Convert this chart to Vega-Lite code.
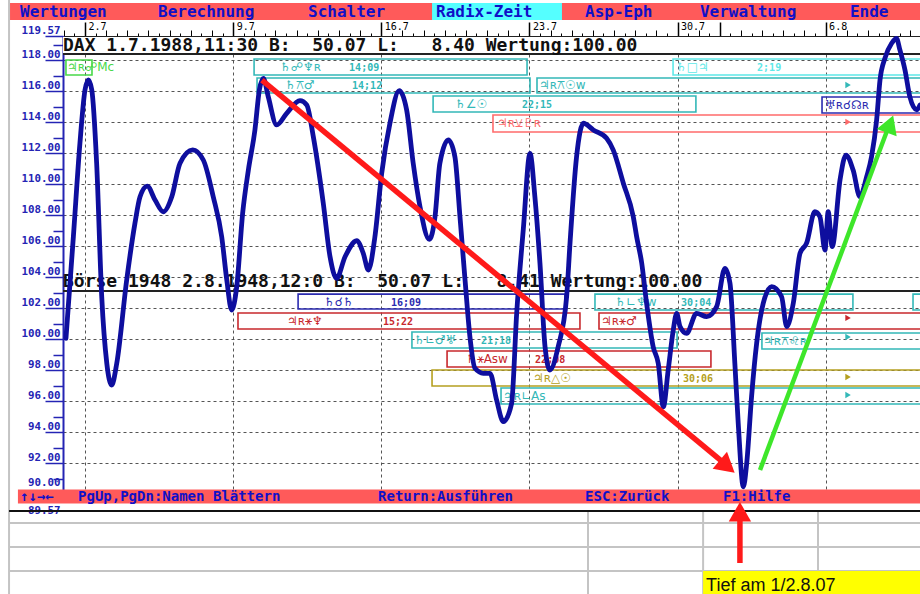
{
  "$schema": "https://vega.github.io/schema/vega-lite/v6.json",
  "width": 857,
  "height": 465,
  "autosize": {"type": "none"},
  "padding": {"left": 63, "top": 36, "right": 0, "bottom": 93},
  "background": "white",
  "config": {"view": {"stroke": null}},
  "resolve": {"axis": {"x": "independent", "y": "independent"}},
  "datasets": {
    "kurs": [
      {"d":1.10,"v":100.07},{"d":1.45,"v":106.62},{"d":1.76,"v":112.65},{"d":2.00,"v":116.09},{"d":2.16,"v":116.73},
      {"d":2.32,"v":116.09},{"d":2.55,"v":111.36},{"d":2.79,"v":102.75},{"d":3.03,"v":98.45},{"d":3.26,"v":97.05},
      {"d":3.50,"v":98.45},{"d":3.97,"v":103.83},{"d":4.36,"v":107.49},{"d":4.60,"v":109.20},{"d":4.94,"v":109.89},
      {"d":5.31,"v":108.99},{"d":5.70,"v":108.23},{"d":6.10,"v":109.20},{"d":6.49,"v":111.36},{"d":7.09,"v":112.22},
      {"d":7.59,"v":111.57},{"d":8.06,"v":109.20},{"d":8.46,"v":106.62},{"d":8.70,"v":103.83},{"d":8.93,"v":101.89},
      {"d":9.17,"v":103.40},{"d":9.45,"v":108.13},{"d":9.72,"v":110.92},{"d":10.03,"v":113.51},{"d":10.24,"v":116.09},
      {"d":10.43,"v":116.84},{"d":10.66,"v":115.65},{"d":11.06,"v":113.83},{"d":11.53,"v":114.58},{"d":12.16,"v":115.40},
      {"d":12.48,"v":115.12},{"d":12.79,"v":113.07},{"d":13.26,"v":108.78},{"d":13.58,"v":105.33},{"d":13.89,"v":103.94},
      {"d":14.29,"v":105.33},{"d":14.84,"v":106.36},{"d":15.15,"v":105.55},{"d":15.39,"v":104.47},{"d":15.70,"v":106.62},
      {"d":16.02,"v":110.71},{"d":16.41,"v":113.94},{"d":16.85,"v":116.04},{"d":17.20,"v":114.80},{"d":17.51,"v":111.36},
      {"d":17.83,"v":108.56},{"d":18.27,"v":106.45},{"d":18.54,"v":107.91},{"d":18.77,"v":111.36},{"d":19.17,"v":112.86},
      {"d":19.48,"v":111.78},{"d":19.72,"v":107.91},{"d":19.96,"v":103.83},{"d":20.19,"v":100.17},{"d":20.43,"v":98.13},
      {"d":20.82,"v":97.81},{"d":21.14,"v":97.81},{"d":21.45,"v":96.09},{"d":21.77,"v":94.69},{"d":22.16,"v":95.87},
      {"d":22.40,"v":101.68},{"d":22.71,"v":107.05},{"d":23.03,"v":112.00},{"d":23.26,"v":109.20},{"d":23.50,"v":104.91},
      {"d":23.74,"v":99.52},{"d":23.97,"v":98.02},{"d":24.36,"v":99.52},{"d":24.76,"v":102.75},{"d":24.92,"v":106.20},
      {"d":25.23,"v":111.78},{"d":25.55,"v":113.94},{"d":26.02,"v":113.51},{"d":26.65,"v":112.97},{"d":26.96,"v":112.22},
      {"d":27.44,"v":110.07},{"d":27.91,"v":107.91},{"d":28.07,"v":106.62},{"d":28.31,"v":104.91},{"d":28.54,"v":102.32},
      {"d":28.85,"v":99.52},{"d":29.09,"v":98.45},{"d":29.33,"v":95.65},{"d":29.56,"v":98.02},{"d":29.80,"v":100.60},
      {"d":29.96,"v":101.68},{"d":30.12,"v":100.82},{"d":30.43,"v":100.39},{"d":30.90,"v":101.68},{"d":31.38,"v":101.46},
      {"d":31.85,"v":102.11},{"d":32.24,"v":104.58},{"d":32.48,"v":103.62},{"d":32.71,"v":98.45},{"d":32.87,"v":94.58},
      {"d":33.11,"v":90.49},{"d":33.27,"v":92.00},{"d":33.50,"v":96.30},{"d":33.74,"v":99.74},{"d":34.05,"v":102.32},
      {"d":34.45,"v":103.40},{"d":34.92,"v":102.75},{"d":35.16,"v":100.82},{"d":35.47,"v":102.32},{"d":35.79,"v":105.55},
      {"d":36.10,"v":106.20},{"d":36.49,"v":108.23},{"d":36.73,"v":107.91},{"d":36.97,"v":105.76},{"d":37.12,"v":108.23},
      {"d":37.31,"v":105.98},{"d":37.68,"v":110.28},{"d":37.96,"v":111.89},{"d":38.30,"v":110.92},{"d":38.62,"v":109.20},
      {"d":38.94,"v":110.49},{"d":39.17,"v":111.78},{"d":39.41,"v":114.15},{"d":39.57,"v":116.73},{"d":39.80,"v":118.13},
      {"d":40.12,"v":119.10},{"d":40.35,"v":119.42},{"d":40.51,"v":118.67},{"d":40.75,"v":117.38},{"d":40.98,"v":115.65},
      {"d":41.30,"v":114.80},{"d":41.46,"v":115.12}
    ],
    "band": [{"d":0.96,"d2":41.7,"v":119.5,"v2":118.47}],
    "rotbalken": [
      {"d":-1.545,"d2":41.7,"v":121.70,"v2":120.60},
      {"d":-1.17,"d2":41.7,"v":90.31,"v2":89.41}
    ],
    "auswahl": [{"d":18.40,"d2":24.54,"v":121.70,"v2":120.60}],
    "menue": [
      {"d":-1.07,"v":120.82,"t":"Wertungen"},
      {"d":5.45,"v":120.82,"t":"Berechnung"},
      {"d":12.54,"v":120.82,"t":"Schalter"},
      {"d":18.59,"v":120.82,"t":"Radix-Zeit"},
      {"d":25.63,"v":120.82,"t":"Asp-Eph"},
      {"d":31.06,"v":120.82,"t":"Verwaltung"},
      {"d":38.15,"v":120.82,"t":"Ende"}
    ],
    "status": [
      {"d":-1.07,"v":89.55,"t":"↑↓→←"},
      {"d":1.67,"v":89.55,"t":"PgUp,PgDn:Namen Blättern"},
      {"d":15.85,"v":89.55,"t":"Return:Ausführen"},
      {"d":25.63,"v":89.55,"t":"ESC:Zurück"},
      {"d":32.15,"v":89.55,"t":"F1:Hilfe"}
    ],
    "kopf": [
      {"d":0.96,"v":118.60,"t":"DAX 1.7.1988,11:30 B:\u00a0\u00a050.07 L:\u00a0\u00a0\u00a08.40 Wertung:100.00"},
      {"d":0.96,"v":103.38,"t":"Börse 1948 2.8.1948,12:0 B:\u00a0\u00a050.07 L:\u00a0\u00a0\u00a08.41 Wertung:100.00"}
    ],
    "kopflinien": [
      {"d":0.96,"d2":41.7,"v":118.41,"v2":118.41},
      {"d":0.96,"d2":41.7,"v":103.12,"v2":103.12}
    ],
    "boxen": [
      {"d":1.10,"d2":2.33,"v":118.02,"v2":117.05,"f":"gruen"},
      {"d":9.99,"d2":22.89,"v":118.09,"v2":117.05,"f":"cyan"},
      {"d":10.13,"d2":23.03,"v":116.86,"v2":115.89,"f":"cyan"},
      {"d":18.45,"d2":30.87,"v":115.70,"v2":114.67,"f":"cyan"},
      {"d":23.36,"d2":41.7,"v":116.86,"v2":115.89,"f":"cyan"},
      {"d":29.79,"d2":41.7,"v":118.09,"v2":117.05,"f":"hellcyan"},
      {"d":21.28,"d2":41.7,"v":114.47,"v2":113.38,"f":"rosa"},
      {"d":36.83,"d2":41.7,"v":115.63,"v2":114.60,"f":"blau"},
      {"d":12.07,"d2":24.68,"v":102.92,"v2":101.96,"f":"blau"},
      {"d":9.23,"d2":25.39,"v":101.70,"v2":100.67,"f":"rot"},
      {"d":26.29,"d2":41.7,"v":101.70,"v2":100.67,"f":"rot"},
      {"d":17.45,"d2":29.98,"v":100.47,"v2":99.44,"f":"cyan"},
      {"d":33.99,"d2":41.7,"v":100.41,"v2":99.38,"f":"cyan"},
      {"d":26.10,"d2":38.29,"v":102.92,"v2":101.89,"f":"cyan"},
      {"d":19.11,"d2":31.58,"v":99.25,"v2":98.22,"f":"rot"},
      {"d":18.40,"d2":41.7,"v":98.02,"v2":96.99,"f":"gelb"},
      {"d":21.66,"d2":41.7,"v":96.86,"v2":95.83,"f":"cyan"},
      {"d":41.13,"d2":41.7,"v":102.92,"v2":101.89,"f":"cyan"}
    ],
    "aspekte": [
      {"d":1.15,"v":117.31,"t":"♃ʀ☍Mc","f":"gruen"},
      {"d":11.22,"v":117.31,"t":"♄☍♆ʀ","f":"cyan"},
      {"d":11.45,"v":116.15,"t":"♄⚻♂","f":"cyan"},
      {"d":19.49,"v":114.92,"t":"♄∠☉","f":"cyan"},
      {"d":23.45,"v":116.15,"t":"♃ʀ⚻☉w","f":"cyan"},
      {"d":29.93,"v":117.31,"t":"♄□♃","f":"hellcyan"},
      {"d":21.47,"v":113.70,"t":"♃ʀ⚺♇ʀ","f":"rosa"},
      {"d":36.97,"v":114.86,"t":"♅ʀ☌☊ʀ","f":"blau"},
      {"d":13.29,"v":102.15,"t":"♄☌♄","f":"blau"},
      {"d":11.55,"v":100.93,"t":"♃ʀ⚹♆","f":"rot"},
      {"d":26.39,"v":100.93,"t":"♃ʀ⚹♂","f":"rot"},
      {"d":17.55,"v":99.70,"t":"♄∟♂♅","f":"cyan"},
      {"d":34.04,"v":99.64,"t":"♃ʀ⚻♌ʀ","f":"cyan"},
      {"d":27.05,"v":102.15,"t":"♄∟♆w","f":"cyan"},
      {"d":20.00,"v":98.47,"t":"♄⚹Asw","f":"rot"},
      {"d":23.17,"v":97.25,"t":"♃ʀ△☉","f":"gelb"},
      {"d":21.75,"v":96.09,"t":"♃ʀ∟As","f":"cyan"}
    ],
    "zeiten": [
      {"d":14.48,"v":117.31,"t":"14;09","f":"cyan"},
      {"d":14.62,"v":116.15,"t":"14;12","f":"cyan"},
      {"d":22.65,"v":114.92,"t":"22;15","f":"cyan"},
      {"d":33.76,"v":117.31,"t":"2;19","f":"hellcyan"},
      {"d":16.46,"v":102.15,"t":"16;09","f":"blau"},
      {"d":16.08,"v":100.93,"t":"15;22","f":"rot"},
      {"d":20.71,"v":99.70,"t":"21;18","f":"cyan"},
      {"d":30.17,"v":102.15,"t":"30;04","f":"cyan"},
      {"d":23.27,"v":98.47,"t":"22;08","f":"rot"},
      {"d":30.26,"v":97.25,"t":"30;06","f":"gelb"}
    ],
    "marken": [
      {"d":38.06,"v":116.41,"f":"cyan"},
      {"d":38.06,"v":114.02,"f":"rosa"},
      {"d":38.06,"v":101.38,"f":"rot"},
      {"d":38.06,"v":100.15,"f":"cyan"},
      {"d":38.06,"v":97.57,"f":"gelb"},
      {"d":38.06,"v":96.41,"f":"cyan"}
    ],
    "rotpfeile": [
      {"d":10.36,"v":116.73,"d2":32.20,"v2":92.02},
      {"d":32.95,"v":85.57,"d2":32.95,"v2":88.70}
    ],
    "rotspitzen": [
      {"d":32.35,"v":91.80,"richtung":40},
      {"d":32.95,"v":88.88,"richtung":-90}
    ],
    "gruenpfeil": [{"d":33.90,"v":91.57,"d2":39.95,"v2":113.63}],
    "gruenspitze": [{"d":40.04,"v":113.89,"richtung":-69.4}],
    "graulinien": [
      {"d":-1.59,"d2":41.7,"v":88.15,"v2":88.15},
      {"d":-1.59,"d2":41.7,"v":86.60,"v2":86.60},
      {"d":-1.59,"d2":41.7,"v":85.05,"v2":85.05},
      {"d":-1.59,"d2":-1.59,"v":121.95,"v2":83.3},
      {"d":25.77,"d2":25.77,"v":88.93,"v2":83.3},
      {"d":31.21,"d2":31.21,"v":88.93,"v2":83.3},
      {"d":36.64,"d2":36.64,"v":88.93,"v2":83.3}
    ],
    "schwarzlinie": [{"d":-1.59,"d2":41.7,"v":88.93,"v2":88.93}],
    "gelbfeld": [{"d":31.21,"d2":41.7,"v":85.05,"v2":83.3}],
    "notiz": [{"d":31.35,"v":83.78,"t":"Tief am 1/2.8.07"}]
  },
  "layer": [
    {
      "data": {"name": "band"},
      "mark": {"type": "rect", "color": "white"},
      "encoding": {
        "x": {"field": "d", "type": "quantitative", "scale": {"domain": [0.96, 41.46], "nice": false, "zero": false},
              "axis": {"orient": "bottom", "values": [2, 9, 16, 23, 30, 37], "grid": true, "gridColor": "#555555", "gridDash": [3, 3], "gridWidth": 1, "ticks": false, "labels": false, "domain": false, "title": null}},
        "x2": {"field": "d2"},
        "y": {"field": "v", "type": "quantitative", "scale": {"domain": [89.57, 119.57], "nice": false, "zero": false},
              "axis": {"orient": "left", "values": [90, 92, 94, 96, 98, 100, 102, 104, 106, 108, 110, 112, 114, 116, 118], "grid": true, "gridColor": "#555555", "gridDash": [3, 3], "gridWidth": 1, "ticks": false, "labels": false, "domain": false, "title": null}},
        "y2": {"field": "v2"}
      }
    },
    {
      "data": {"name": "rotbalken"},
      "mark": {"type": "rect", "color": "#ff5a5a"},
      "encoding": {
        "x": {"field": "d", "type": "quantitative", "scale": {"domain": [0.96, 41.46], "nice": false, "zero": false},
              "axis": {"orient": "top", "values": [1,2,3,4,5,6,7,8,9,10,11,12,13,14,15,16,17,18,19,20,21,22,23,24,25,26,27,28,29,30,31,32,33,34,35,36,37,38,39,40,41], "tickSize": 6, "tickColor": "#000000", "tickWidth": 1, "labels": false, "domain": false, "grid": false, "title": null}},
        "x2": {"field": "d2"},
        "y": {"field": "v", "type": "quantitative", "scale": {"domain": [89.57, 119.57], "nice": false, "zero": false},
              "axis": {"orient": "left", "values": [91, 93, 95, 97, 99, 101, 103, 105, 107, 109, 111, 113, 115, 117, 119], "tickSize": 10, "tickColor": "#2424b4", "tickWidth": 1.5, "labels": false, "domain": false, "grid": false, "title": null}},
        "y2": {"field": "v2"}
      }
    },
    {
      "data": {"name": "auswahl"},
      "mark": {"type": "rect", "color": "#55ffff"},
      "encoding": {
        "x": {"field": "d", "type": "quantitative", "scale": {"domain": [0.96, 41.46], "nice": false, "zero": false},
              "axis": {"orient": "top", "values": [1.5,2.5,3.5,4.5,5.5,6.5,7.5,8.5,9.5,10.5,11.5,12.5,13.5,14.5,15.5,16.5,17.5,18.5,19.5,20.5,21.5,22.5,23.5,24.5,25.5,26.5,27.5,28.5,29.5,30.5,31.5,32.5,33.5,34.5,35.5,36.5,37.5,38.5,39.5,40.5,41.5], "tickSize": 3, "tickColor": "#000000", "tickWidth": 1, "labels": false, "domain": false, "grid": false, "title": null}},
        "x2": {"field": "d2"},
        "y": {"field": "v", "type": "quantitative", "scale": {"domain": [89.57, 119.57], "nice": false, "zero": false},
              "axis": {"orient": "left", "values": [89.57], "format": ".2f", "tickSize": 18, "tickColor": "#2424b4", "tickWidth": 1.5, "domain": false, "grid": false, "title": null,
                       "labelAlign": "right", "labelBaseline": "top", "labelOffset": 3, "labelPadding": -15, "labelFont": "DejaVu Sans Mono", "labelFontSize": 10.8, "labelFontWeight": "bold", "labelColor": "#2424b4", "labelFlush": false, "labelOverlap": false, "labelBound": false}},
        "y2": {"field": "v2"}
      }
    },
    {
      "data": {"name": "boxen"},
      "mark": {"type": "rect", "filled": false, "strokeWidth": 1.6},
      "encoding": {
        "x": {"field": "d", "type": "quantitative", "scale": {"domain": [0.96, 41.46], "nice": false, "zero": false}, "axis": null},
        "x2": {"field": "d2"},
        "y": {"field": "v", "type": "quantitative", "scale": {"domain": [89.57, 119.57], "nice": false, "zero": false}, "axis": null},
        "y2": {"field": "v2"},
        "stroke": {"field": "f", "type": "nominal", "legend": null,
                   "scale": {"domain": ["cyan", "hellcyan", "rot", "rosa", "blau", "gelb", "gruen"], "range": ["#33b8b8", "#5ee8e8", "#c8282d", "#ff6b6b", "#2b2bb0", "#b5a020", "#48d848"]}}
      }
    },
    {
      "data": {"name": "aspekte"},
      "mark": {"type": "text", "align": "left", "baseline": "alphabetic", "font": "DejaVu Sans", "fontSize": 12},
      "encoding": {
        "x": {"field": "d", "type": "quantitative", "scale": {"domain": [0.96, 41.46], "nice": false, "zero": false}, "axis": null},
        "y": {"field": "v", "type": "quantitative", "scale": {"domain": [89.57, 119.57], "nice": false, "zero": false}, "axis": null},
        "text": {"field": "t"},
        "color": {"field": "f", "type": "nominal", "legend": null,
                  "scale": {"domain": ["cyan", "hellcyan", "rot", "rosa", "blau", "gelb", "gruen"], "range": ["#33b8b8", "#5ee8e8", "#c8282d", "#ff6b6b", "#2b2bb0", "#b5a020", "#48d848"]}}
      }
    },
    {
      "data": {"name": "zeiten"},
      "mark": {"type": "text", "align": "left", "baseline": "alphabetic", "font": "DejaVu Sans Mono", "fontSize": 10, "fontWeight": "bold"},
      "encoding": {
        "x": {"field": "d", "type": "quantitative", "scale": {"domain": [0.96, 41.46], "nice": false, "zero": false}, "axis": null},
        "y": {"field": "v", "type": "quantitative", "scale": {"domain": [89.57, 119.57], "nice": false, "zero": false},
              "axis": {"orient": "left", "values": [90], "format": ".2f", "tickSize": 18, "tickColor": "#2424b4", "tickWidth": 1.5, "domain": false, "grid": false, "title": null,
                       "labelAlign": "right", "labelBaseline": "alphabetic", "labelOffset": -9, "labelPadding": -15, "labelFont": "DejaVu Sans Mono", "labelFontSize": 10.8, "labelFontWeight": "bold", "labelColor": "#2424b4", "labelFlush": false, "labelOverlap": false, "labelBound": false}},
        "text": {"field": "t"},
        "color": {"field": "f", "type": "nominal", "legend": null,
                  "scale": {"domain": ["cyan", "hellcyan", "rot", "rosa", "blau", "gelb", "gruen"], "range": ["#33b8b8", "#5ee8e8", "#c8282d", "#ff6b6b", "#2b2bb0", "#b5a020", "#48d848"]}}
      }
    },
    {
      "data": {"name": "marken"},
      "mark": {"type": "point", "shape": "triangle-right", "filled": true, "size": 40, "opacity": 1},
      "encoding": {
        "x": {"field": "d", "type": "quantitative", "scale": {"domain": [0.96, 41.46], "nice": false, "zero": false}, "axis": null},
        "y": {"field": "v", "type": "quantitative", "scale": {"domain": [89.57, 119.57], "nice": false, "zero": false}, "axis": null},
        "color": {"field": "f", "type": "nominal", "legend": null,
                  "scale": {"domain": ["cyan", "hellcyan", "rot", "rosa", "blau", "gelb", "gruen"], "range": ["#33b8b8", "#5ee8e8", "#c8282d", "#ff6b6b", "#2b2bb0", "#b5a020", "#48d848"]}}
      }
    },
    {
      "data": {"name": "kopflinien"},
      "mark": {"type": "rule", "color": "#222222", "strokeWidth": 2},
      "encoding": {
        "x": {"field": "d", "type": "quantitative", "scale": {"domain": [0.96, 41.46], "nice": false, "zero": false}, "axis": null},
        "x2": {"field": "d2"},
        "y": {"field": "v", "type": "quantitative", "scale": {"domain": [89.57, 119.57], "nice": false, "zero": false}, "axis": null},
        "y2": {"field": "v2"}
      }
    },
    {
      "data": {"name": "kopf"},
      "mark": {"type": "text", "align": "left", "baseline": "alphabetic", "font": "DejaVu Sans Mono", "fontSize": 18, "fontWeight": "bold", "color": "#111111"},
      "encoding": {
        "x": {"field": "d", "type": "quantitative", "scale": {"domain": [0.96, 41.46], "nice": false, "zero": false}, "axis": null},
        "y": {"field": "v", "type": "quantitative", "scale": {"domain": [89.57, 119.57], "nice": false, "zero": false}, "axis": null},
        "text": {"field": "t"}
      }
    },
    {
      "data": {"name": "menue"},
      "mark": {"type": "text", "align": "left", "baseline": "alphabetic", "font": "DejaVu Sans Mono", "fontSize": 16, "fontWeight": "bold", "color": "#1010c8"},
      "encoding": {
        "x": {"field": "d", "type": "quantitative", "scale": {"domain": [0.96, 41.46], "nice": false, "zero": false}, "axis": null},
        "y": {"field": "v", "type": "quantitative", "scale": {"domain": [89.57, 119.57], "nice": false, "zero": false}, "axis": null},
        "text": {"field": "t"}
      }
    },
    {
      "data": {"name": "kurs"},
      "mark": {"type": "line", "color": "#0e0e9e", "strokeWidth": 4.8, "interpolate": "monotone", "strokeJoin": "round", "strokeCap": "round"},
      "encoding": {
        "x": {"field": "d", "type": "quantitative", "scale": {"domain": [0.96, 41.46], "nice": false, "zero": false},
              "axis": {"orient": "top", "values": [2, 9, 16, 23, 30, 32, 37], "tickSize": 14, "tickColor": "#000000", "tickWidth": 1.5, "domain": true, "domainColor": "#222222", "domainWidth": 1, "grid": false, "title": null,
                       "labelExpr": "datum.value == 32 ? '' : (datum.value <= 31 ? datum.value + '.7' : (datum.value - 31) + '.8')",
                       "labelAlign": "left", "labelBaseline": "bottom", "labelOffset": 3, "labelPadding": -9, "labelFont": "DejaVu Sans Mono", "labelFontSize": 10, "labelColor": "#000000", "labelFlush": false, "labelOverlap": false}},
        "y": {"field": "v", "type": "quantitative", "scale": {"domain": [89.57, 119.57], "nice": false, "zero": false},
              "axis": {"orient": "left", "values": [92, 94, 96, 98, 100, 102, 104, 106, 108, 110, 112, 114, 116, 118, 119.57], "format": ".2f", "tickSize": 18, "tickColor": "#2424b4", "tickWidth": 1.5, "domain": true, "domainColor": "#2424b4", "domainWidth": 2, "grid": false, "title": null,
                       "labelAlign": "right", "labelBaseline": "alphabetic", "labelOffset": -3, "labelPadding": -15, "labelFont": "DejaVu Sans Mono", "labelFontSize": 10.8, "labelFontWeight": "bold", "labelColor": "#2424b4", "labelFlush": false, "labelOverlap": false, "labelBound": false}}
      }
    },
    {
      "data": {"name": "status"},
      "mark": {"type": "text", "align": "left", "baseline": "alphabetic", "font": "DejaVu Sans Mono", "fontSize": 14, "fontWeight": "bold", "color": "#1010c8"},
      "encoding": {
        "x": {"field": "d", "type": "quantitative", "scale": {"domain": [0.96, 41.46], "nice": false, "zero": false}, "axis": null},
        "y": {"field": "v", "type": "quantitative", "scale": {"domain": [89.57, 119.57], "nice": false, "zero": false}, "axis": null},
        "text": {"field": "t"}
      }
    },
    {
      "data": {"name": "graulinien"},
      "mark": {"type": "rule", "color": "#c4c4c4", "strokeWidth": 2},
      "encoding": {
        "x": {"field": "d", "type": "quantitative", "scale": {"domain": [0.96, 41.46], "nice": false, "zero": false}, "axis": null},
        "x2": {"field": "d2"},
        "y": {"field": "v", "type": "quantitative", "scale": {"domain": [89.57, 119.57], "nice": false, "zero": false}, "axis": null},
        "y2": {"field": "v2"}
      }
    },
    {
      "data": {"name": "schwarzlinie"},
      "mark": {"type": "rule", "color": "#111111", "strokeWidth": 2},
      "encoding": {
        "x": {"field": "d", "type": "quantitative", "scale": {"domain": [0.96, 41.46], "nice": false, "zero": false}, "axis": null},
        "x2": {"field": "d2"},
        "y": {"field": "v", "type": "quantitative", "scale": {"domain": [89.57, 119.57], "nice": false, "zero": false}, "axis": null},
        "y2": {"field": "v2"}
      }
    },
    {
      "data": {"name": "rotpfeile"},
      "mark": {"type": "rule", "color": "#ff1a1a", "strokeWidth": 5.5},
      "encoding": {
        "x": {"field": "d", "type": "quantitative", "scale": {"domain": [0.96, 41.46], "nice": false, "zero": false}, "axis": null},
        "x2": {"field": "d2"},
        "y": {"field": "v", "type": "quantitative", "scale": {"domain": [89.57, 119.57], "nice": false, "zero": false}, "axis": null},
        "y2": {"field": "v2"}
      }
    },
    {
      "data": {"name": "rotspitzen"},
      "mark": {"type": "point", "shape": "triangle-right", "filled": true, "size": 500, "color": "#ff1a1a", "opacity": 1},
      "encoding": {
        "x": {"field": "d", "type": "quantitative", "scale": {"domain": [0.96, 41.46], "nice": false, "zero": false}, "axis": null},
        "y": {"field": "v", "type": "quantitative", "scale": {"domain": [89.57, 119.57], "nice": false, "zero": false}, "axis": null},
        "angle": {"field": "richtung", "type": "quantitative", "scale": null}
      }
    },
    {
      "data": {"name": "gruenpfeil"},
      "mark": {"type": "rule", "color": "#3ee62a", "strokeWidth": 4.5},
      "encoding": {
        "x": {"field": "d", "type": "quantitative", "scale": {"domain": [0.96, 41.46], "nice": false, "zero": false}, "axis": null},
        "x2": {"field": "d2"},
        "y": {"field": "v", "type": "quantitative", "scale": {"domain": [89.57, 119.57], "nice": false, "zero": false}, "axis": null},
        "y2": {"field": "v2"}
      }
    },
    {
      "data": {"name": "gruenspitze"},
      "mark": {"type": "point", "shape": "triangle-right", "filled": true, "size": 450, "color": "#3ee62a", "opacity": 1},
      "encoding": {
        "x": {"field": "d", "type": "quantitative", "scale": {"domain": [0.96, 41.46], "nice": false, "zero": false}, "axis": null},
        "y": {"field": "v", "type": "quantitative", "scale": {"domain": [89.57, 119.57], "nice": false, "zero": false}, "axis": null},
        "angle": {"field": "richtung", "type": "quantitative", "scale": null}
      }
    },
    {
      "data": {"name": "gelbfeld"},
      "mark": {"type": "rect", "color": "#ffff00"},
      "encoding": {
        "x": {"field": "d", "type": "quantitative", "scale": {"domain": [0.96, 41.46], "nice": false, "zero": false}, "axis": null},
        "x2": {"field": "d2"},
        "y": {"field": "v", "type": "quantitative", "scale": {"domain": [89.57, 119.57], "nice": false, "zero": false}, "axis": null},
        "y2": {"field": "v2"}
      }
    },
    {
      "data": {"name": "notiz"},
      "mark": {"type": "text", "align": "left", "baseline": "alphabetic", "font": "Liberation Sans", "fontSize": 18, "color": "#111111"},
      "encoding": {
        "x": {"field": "d", "type": "quantitative", "scale": {"domain": [0.96, 41.46], "nice": false, "zero": false}, "axis": null},
        "y": {"field": "v", "type": "quantitative", "scale": {"domain": [89.57, 119.57], "nice": false, "zero": false}, "axis": null},
        "text": {"field": "t"}
      }
    }
  ]
}
